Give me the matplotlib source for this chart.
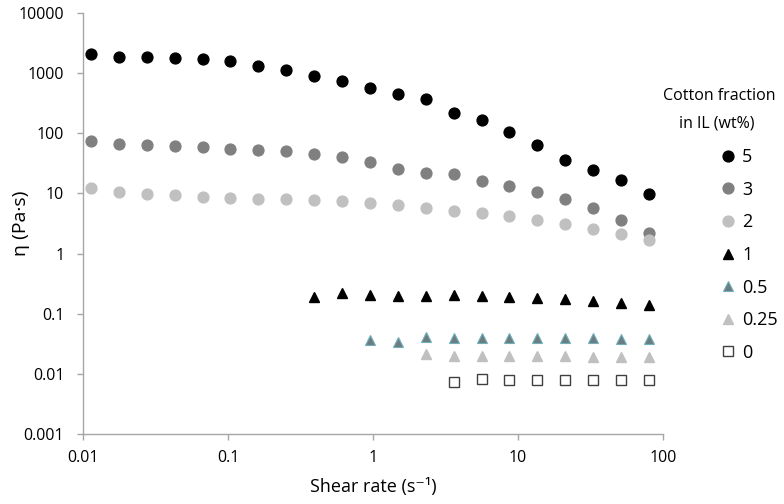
import numpy as np
import matplotlib
matplotlib.use('Agg')
import matplotlib.pyplot as plt
from matplotlib.ticker import FixedLocator, FuncFormatter, NullLocator

plt.rcParams['font.family'] = ['Open Sans', 'DejaVu Sans']
plt.rcParams['font.size'] = 11.5

# shear rate (1/s), log spaced sweep
shear_rate = [0.01135, 0.01768, 0.02753, 0.04287, 0.06676, 0.1040, 0.1620,
              0.2522, 0.3928, 0.6117, 0.9528, 1.484, 2.311, 3.599, 5.605,
              8.730, 13.60, 21.17, 32.98, 51.36, 79.98]

# viscosity (Pa.s) for each cotton fraction
eta_5 = [2050, 1870, 1830, 1780, 1710, 1585, 1323, 1122, 891, 727, 569,
         442, 369, 221, 169, 107, 64.8, 35.9, 24.2, 16.5, 9.9]
eta_3 = [73.6, 67.3, 63.1, 61.5, 59.2, 55.6, 53.4, 50.1, 44.7, 39.8, 32.9,
         25.4, 22.1, 21.3, 16.0, 13.1, 10.4, 7.94, 5.62, 3.65, 2.24]
eta_2 = [12.3, 10.4, 9.9, 9.26, 8.7, 8.47, 8.15, 7.94, 7.64, 7.45, 7.0,
         6.39, 5.78, 5.07, 4.7, 4.14, 3.65, 3.13, 2.58, 2.1, 1.65]
eta_1 = [0.192, 0.224, 0.205, 0.200, 0.194, 0.202, 0.194, 0.187, 0.180,
         0.173, 0.165, 0.151, 0.140]          # from shear_rate[8:]
eta_05 = [0.0365, 0.0341, 0.0403, 0.0400, 0.0402, 0.0400, 0.0398, 0.0396,
          0.0390, 0.0385, 0.0380]             # from shear_rate[10:]
eta_025 = [0.0213, 0.0197, 0.0196, 0.0195, 0.0196, 0.0195, 0.0194,
           0.0194, 0.0193]                    # from shear_rate[12:]
eta_0 = [0.00745, 0.00815, 0.00790, 0.00790, 0.00785, 0.00785, 0.00785,
         0.00785]                             # from shear_rate[13:]

labels = ['5', '3', '2', '1', '0.5', '0.25', '0']
y_ticks = [0.001, 0.01, 0.1, 1, 10, 100, 1000, 10000]
x_ticks = [0.01, 0.1, 1, 10, 100]

axis_gray = '#a6a6a6'

fig = plt.figure(figsize=(7.84, 5.04), dpi=100)
ax = fig.add_axes([83/784, 1-434/504, (663-83)/784, (434-13)/504])

x = np.array(shear_rate)
ax.plot(x, eta_5, 'o', ms=7.8, color='black', mec='black', label=labels[0])
ax.plot(x, eta_3, 'o', ms=7.8, color='#808080', mec='#808080', label=labels[1])
ax.plot(x, eta_2, 'o', ms=7.8, color='#c0c0c0', mec='#c0c0c0', label=labels[2])
ax.plot(x[8:], eta_1, '^', ms=6.5, color='black', mec='black', label=labels[3])
ax.plot(x[10:], eta_05, '^', ms=6.5, color='#6b7c82', mec='#6fb0b8', mew=0.8, label=labels[4])
ax.plot(x[12:], eta_025, '^', ms=6.5, color='#c0c0c0', mec='#c0c0c0', label=labels[5])
ax.plot(x[13:], eta_0, 's', ms=7, mfc='white', mec='#404040', mew=1.0, label=labels[6])

ax.set_xscale('log')
ax.set_yscale('log')
ax.set_xlim(0.01, 100)
ax.set_ylim(0.001, 10000)

fmt = FuncFormatter(lambda v, p: '{:g}'.format(v))
ax.xaxis.set_major_locator(FixedLocator(x_ticks))
ax.yaxis.set_major_locator(FixedLocator(y_ticks))
ax.xaxis.set_major_formatter(fmt)
ax.yaxis.set_major_formatter(fmt)
ax.xaxis.set_minor_locator(NullLocator())
ax.yaxis.set_minor_locator(NullLocator())

for s in ['top', 'right']:
    ax.spines[s].set_visible(False)
for s in ['left', 'bottom']:
    ax.spines[s].set_color(axis_gray)
    ax.spines[s].set_linewidth(1.0)
ax.tick_params(axis='both', direction='out', length=4.5, width=1.0,
               color=axis_gray, labelsize=11.5, labelcolor='black')
ax.tick_params(axis='y', pad=9)
ax.tick_params(axis='x', pad=7)

ax.set_xlabel('Shear rate (s⁻¹)', fontsize=13)
ax.set_ylabel('η (Pa·s)', fontsize=14)
ax.xaxis.set_label_coords(0.5, -0.105)
ax.yaxis.set_label_coords(-0.092, 0.5)

# legend, title drawn separately so it can be centred over the entries
fig.text(719/784, 1-96/504, 'Cotton fraction', ha='center', va='center', fontsize=11.5)
fig.text(717/784, 1-123/504, 'in IL (wt%)', ha='center', va='center', fontsize=11.5)
leg = fig.legend(loc='upper left', bbox_to_anchor=(720/784, 1-148/504),
                 frameon=False, fontsize=13, handlelength=0.92,
                 handletextpad=0.3, labelspacing=0.81, borderaxespad=0,
                 borderpad=0)

fig.savefig('out.png', dpi=100)
